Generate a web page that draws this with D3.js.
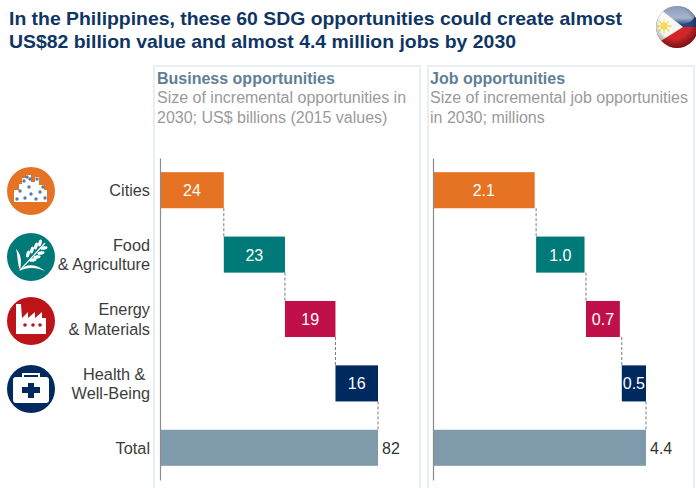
<!DOCTYPE html>
<html>
<head>
<meta charset="utf-8">
<script src="https://cdn.jsdelivr.net/npm/d3@7/dist/d3.min.js"></script>
<style>
html,body{margin:0;padding:0;background:#fff;overflow:hidden}
text{font-family:"Liberation Sans",Arial,sans-serif}
</style>
</head>
<body>
<svg id="chart" width="696" height="488"></svg>
<script>
// Waterfall values per sector
const categories = ["Cities", "Food & Agriculture", "Energy & Materials", "Health & Well-Being", "Total"];
const categoryLines = [["Cities"], ["Food", "& Agriculture"], ["Energy", "& Materials"], ["Health & ", "Well-Being"], ["Total"]];
const businessValues = [24, 23, 19, 16, 82];
const businessStarts = [0, 24, 47, 66, 0];
const businessLabels = ["24", "23", "19", "16", "82"];
const jobValues = [2.1, 1.0, 0.7, 0.5, 4.4];
// The job figures are rounded, so each step starts from the unrounded running total
const jobStarts = [0, 2.13, 3.16, 3.9, 0];
const jobLabels = ["2.1", "1.0", "0.7", "0.5", "4.4"];
const barColors = ["#e57323", "#007a78", "#c0104a", "#002960", "#7f9bab"];
const titleLines = ["In the Philippines, these 60 SDG opportunities could create almost", "US$82 billion value and almost 4.4 million jobs by 2030"];
const businessHeading = ["Business opportunities", "Size of incremental opportunities in", "2030; US$ billions (2015 values)"];
const jobHeading = ["Job opportunities", "Size of incremental job opportunities", "in 2030; millions"];

const svg = d3.select("#chart");
const defs = svg.append("defs");

const y = d3.scaleBand().domain(categories).range([158, 480]).paddingInner(0.44).paddingOuter(0.22);

svg.append("g").selectAll("text").data(titleLines).join("text")
  .attr("x", 9).attr("y", (d, i) => 25 + i * 22.5)
  .attr("font-size", 18.6).attr("font-weight", "bold").attr("fill", "#0f3565")
  .attr("textLength", (d, i) => i ? 507 : 613).attr("lengthAdjust", "spacingAndGlyphs").text(d => d);

// Draws one framed waterfall panel
function panel(cfg) {
  const g = svg.append("g");
  g.append("rect").attr("x", cfg.frame[0]).attr("y", 66).attr("width", cfg.frame[1] - cfg.frame[0]).attr("height", 440)
    .attr("fill", "none").attr("stroke", "#e3ebf0").attr("stroke-width", 1.6);

  cfg.heading.forEach((t, i) => {
    g.append("text").attr("x", cfg.textX).attr("y", 84 + i * 19.3)
      .attr("font-size", 16).attr("font-weight", i ? "normal" : "bold")
      .attr("fill", i ? "#9a9a9a" : "#5f7f96").text(t);
  });

  const x = d3.scaleLinear().domain(cfg.domain).range(cfg.range);

  // connectors run from the end of one step down to the top of the next
  g.append("g").selectAll("line").data(cfg.values.slice(0, -1)).join("line")
    .attr("x1", (d, i) => x(cfg.starts[i + 1] || cfg.domain[1]))
    .attr("x2", (d, i) => x(cfg.starts[i + 1] || cfg.domain[1]))
    .attr("y1", (d, i) => y(categories[i]) + y.bandwidth())
    .attr("y2", (d, i) => y(categories[i + 1]))
    .attr("stroke", "#7a7a7a").attr("stroke-width", 1).attr("stroke-dasharray", "3 2");

  g.append("g").selectAll("rect").data(cfg.values).join("rect")
    .attr("x", (d, i) => x(cfg.starts[i]))
    .attr("y", (d, i) => y(categories[i]))
    .attr("width", (d, i) => x(cfg.starts[i] + d) - x(cfg.starts[i]))
    .attr("height", y.bandwidth())
    .attr("fill", (d, i) => barColors[i]);

  const axis = g.append("g").attr("transform", `translate(${x(0)},0)`)
    .call(d3.axisLeft(y).tickSize(0).tickFormat(""));
  axis.select(".domain").attr("stroke", "#8c8c8c").attr("stroke-width", 1.2);

  g.append("g").selectAll("text").data(cfg.values).join("text")
    .attr("x", (d, i) => i === 4 ? x(d) + 4 : x(cfg.starts[i] + d / 2))
    .attr("y", (d, i) => y(categories[i]) + y.bandwidth() / 2 + 6)
    .attr("text-anchor", (d, i) => i === 4 ? "start" : "middle")
    .attr("font-size", 16)
    .attr("fill", (d, i) => i === 4 ? "#333" : "#fff")
    .text((d, i) => cfg.labels[i]);
}

panel({ frame: [154, 420], textX: 157, heading: businessHeading, values: businessValues, starts: businessStarts, labels: businessLabels, domain: [0, 82], range: [160, 378] });
panel({ frame: [428, 694], textX: 430, heading: jobHeading, values: jobValues, starts: jobStarts, labels: jobLabels, domain: [0, 4.4], range: [433, 646] });

// Row labels
categoryLines.forEach((lines, i) => {
  const c = y(categories[i]) + y.bandwidth() / 2;
  lines.forEach((t, j) => {
    svg.append("text").attr("x", 150).attr("y", c + 6 + (j - (lines.length - 1) / 2) * 19.5)
      .attr("text-anchor", "end").attr("font-size", 16.3).attr("fill", "#3c3c3c")
      .style("white-space", "pre").text(t);
  });
});

// Sector icons
const iconCx = 31;
const iconCentres = [191, 257, 321, 389];
function badge(i, color) {
  const g = svg.append("g").attr("transform", `translate(${iconCx},${iconCentres[i]})`);
  g.append("circle").attr("r", 24).attr("fill", color);
  return g;
}

// Cities: a white skyline dotted with blue windows
{
  const g = badge(0, barColors[0]);
  g.append("path").attr("fill", "#fff")
    .attr("d", "M-17,11V-1H-12V-7H-9V-13H-5V-16H0V-9H4V-14H8V-6H13V-1H16V11Z");
  const windows = [[-14, 8], [-6, 7], [5, 8], [14, 7], [0, 3], [9, 1], [-11, 0], [-2, -4], [-7, -10], [-4, -14], [-1, -12], [6, -12], [12, -4]];
  g.selectAll("circle.w").data(windows).join("circle").attr("class", "w")
    .attr("cx", d => d[0]).attr("cy", d => d[1]).attr("r", 1.7).attr("fill", "#4f7fb5");
}

// Food: a wheat ear with two sweeping leaves
{
  const g = badge(1, barColors[1]);
  g.append("path").attr("fill", "none").attr("stroke", "#fff").attr("stroke-width", 1.2)
    .attr("d", "M-11,13C-4,6 4,-3 14,-14");
  const upperGrains = [[-3, -3], [1, -7], [5, -11], [9, -14]];
  const lowerGrains = [[2, 3], [6, 0], [10, -4], [13, -9]];
  g.selectAll("ellipse.up").data(upperGrains).join("ellipse").attr("class", "up")
    .attr("rx", 3.6).attr("ry", 1.7).attr("fill", "#fff")
    .attr("transform", d => `translate(${d[0]},${d[1]}) rotate(-75)`);
  g.selectAll("ellipse.low").data(lowerGrains).join("ellipse").attr("class", "low")
    .attr("rx", 3.6).attr("ry", 1.7).attr("fill", "#fff")
    .attr("transform", d => `translate(${d[0]},${d[1]}) rotate(-10)`);
  g.append("path").attr("fill", "#fff").attr("d", "M-12,14C-6,7 3,6 14,14C5,10 -4,10 -12,14Z");
  g.append("path").attr("fill", "#fff").attr("d", "M-11,13C-9,4 -10,-3 -15,-8C-13,-1 -14,6 -11,13Z");
}

// Energy: a white factory with chimney
{
  const g = badge(2, "#bc1419");
  g.append("path").attr("fill", "#fff")
    .attr("d", "M-15,13V-17H-10L-9,-3L-3,-9V-3L4,-9V-3L11,-9V-3H15V13Z");
  g.selectAll("circle.w").data([-6, 2, 9]).join("circle").attr("class", "w")
    .attr("cx", d => d).attr("cy", 4).attr("r", 1.8).attr("fill", "#bc1419");
}

// Health: a first-aid case
{
  const g = badge(3, barColors[3]);
  g.append("path").attr("fill", "none").attr("stroke", "#fff").attr("stroke-width", 2)
    .attr("d", "M-8,-11V-15H8V-11");
  g.append("rect").attr("x", -18).attr("y", -12).attr("width", 36).attr("height", 26).attr("rx", 3).attr("fill", "#fff");
  g.append("path").attr("fill", barColors[3]).attr("d", "M-3,-6H3V-2H9V4H3V9H-3V4H-9V-2H-3Z");
}

// Flag globe in the top corner
{
  const cx = 677, cy = 27, r = 21;
  const clipId = "flagClip";
  defs.append("clipPath").attr("id", clipId).append("circle").attr("cx", cx).attr("cy", cy).attr("r", r);
  const shade = defs.append("radialGradient").attr("id", "globeShade").attr("cx", "45%").attr("cy", "40%").attr("r", "62%");
  shade.append("stop").attr("offset", "60%").attr("stop-color", "#000").attr("stop-opacity", 0);
  shade.append("stop").attr("offset", "100%").attr("stop-color", "#000").attr("stop-opacity", 0.5);
  const gloss = defs.append("linearGradient").attr("id", "globeGloss").attr("x1", 0).attr("y1", 0).attr("x2", 0).attr("y2", 1);
  gloss.append("stop").attr("offset", "0%").attr("stop-color", "#fff").attr("stop-opacity", 0.45);
  gloss.append("stop").attr("offset", "65%").attr("stop-color", "#fff").attr("stop-opacity", 0.6);
  gloss.append("stop").attr("offset", "100%").attr("stop-color", "#fff").attr("stop-opacity", 0);

  const g = svg.append("g").attr("clip-path", `url(#${clipId})`);
  g.append("rect").attr("x", cx - r).attr("y", cy - r).attr("width", 2 * r).attr("height", r).attr("fill", "#27457f");
  g.append("rect").attr("x", cx - r).attr("y", cy).attr("width", 2 * r).attr("height", r).attr("fill", "#d3262a");
  g.append("path").attr("fill", "#f6f6f2")
    .attr("d", `M${cx - r},${cy - r}L${cx + 6},${cy}L${cx - r},${cy + 17}Z`);
  g.append("circle").attr("cx", cx - 13).attr("cy", cy - 1).attr("r", 3.5).attr("fill", "#f3dc55");
  g.selectAll("line.ray").data(d3.range(8)).join("line").attr("class", "ray")
    .attr("x1", cx - 13).attr("y1", cy - 1)
    .attr("x2", d => cx - 13 + 7.5 * Math.cos(d * Math.PI / 4))
    .attr("y2", d => cy - 1 + 7.5 * Math.sin(d * Math.PI / 4))
    .attr("stroke", "#f3dc55").attr("stroke-width", 1.3);
  g.append("ellipse").attr("cx", cx).attr("cy", cy - 12).attr("rx", 18).attr("ry", 10).attr("fill", "url(#globeGloss)");
  g.append("circle").attr("cx", cx).attr("cy", cy).attr("r", r).attr("fill", "url(#globeShade)");
}
</script>
</body>
</html>
